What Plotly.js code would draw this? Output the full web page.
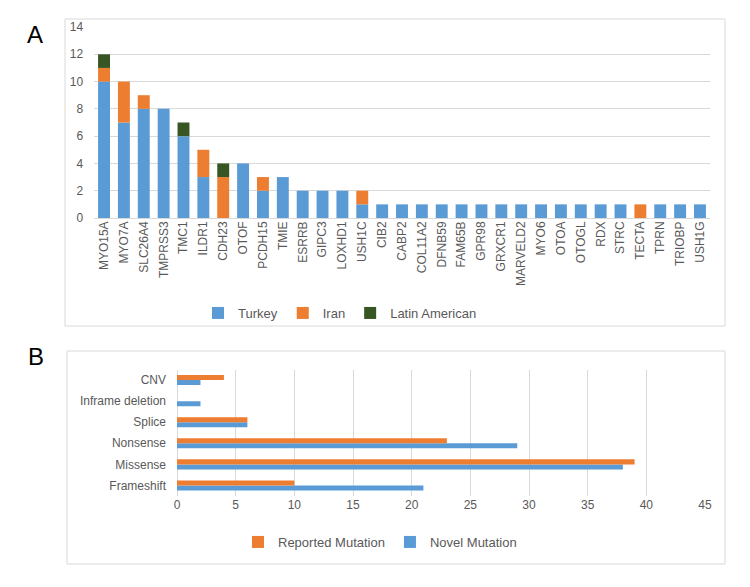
<!DOCTYPE html>
<html>
<head>
<meta charset="utf-8">
<script src="https://cdn.plot.ly/plotly-3.0.1.min.js"></script>
<style>html,body{margin:0;padding:0;background:#fff;}#chart{width:750px;height:587px;}</style>
</head>
<body>
<div id="chart"></div>
<script>
// Panel A data
const genes = ["MYO15A","MYO7A","SLC26A4","TMPRSS3","TMC1","ILDR1","CDH23","OTOF","PCDH15","TMIE","ESRRB","GIPC3","LOXHD1","USH1C","CIB2","CABP2","COL11A2","DFNB59","FAM65B","GPR98","GRXCR1","MARVELD2","MYO6","OTOA","OTOGL","RDX","STRC","TECTA","TPRN","TRIOBP","USH1G"];
const turkey = [10,7,8,8,6,3,0,4,2,3,2,2,2,1,1,1,1,1,1,1,1,1,1,1,1,1,1,0,1,1,1];
const iran   = [1,3,1,0,0,2,3,0,1,0,0,0,0,1,0,0,0,0,0,0,0,0,0,0,0,0,0,1,0,0,0];
const latin  = [1,0,0,0,1,0,1,0,0,0,0,0,0,0,0,0,0,0,0,0,0,0,0,0,0,0,0,0,0,0,0];

// Panel B data
const mutTypes = ["Frameshift","Missense","Nonsense","Splice","Inframe deletion","CNV"];
const reported = [10,39,23,6,0,4];
const novel    = [21,38,29,6,2,2];

const BLUE = "#5B9BD5", ORANGE = "#ED7D31", GREEN = "#375623";
const FONT = "Liberation Sans, Arial, sans-serif";
const TXT = "#595959";

const traces = [
  {type:"bar", x:genes, y:turkey, name:"Turkey", marker:{color:BLUE}, xaxis:"x", yaxis:"y", legend:"legend"},
  {type:"bar", x:genes, y:iran, name:"Iran", marker:{color:ORANGE}, xaxis:"x", yaxis:"y", legend:"legend"},
  {type:"bar", x:genes, y:latin, name:"Latin American", marker:{color:GREEN}, xaxis:"x", yaxis:"y", legend:"legend"},
  {type:"bar", orientation:"h", y:mutTypes, x:novel, name:"Novel Mutation", marker:{color:BLUE}, xaxis:"x2", yaxis:"y2", legend:"legend2",
   width:0.24, offset:-0.24, base:0},
  {type:"bar", orientation:"h", y:mutTypes, x:reported, name:"Reported Mutation", marker:{color:ORANGE}, xaxis:"x2", yaxis:"y2", legend:"legend2",
   width:0.24, offset:0, base:0}
];

const layout = {
  width:750, height:587,
  margin:{l:0,r:0,t:0,b:0},
  paper_bgcolor:"#fff", plot_bgcolor:"#fff",
  font:{family:FONT, color:TXT, size:12},
  barmode:"relative",
  bargap:0.4,
  showlegend:true,
  xaxis:{domain:[94.1/750, 709.9/750], anchor:"y", type:"category", tickangle:-90,
         showgrid:false, showline:false, ticks:"", tickfont:{size:12,color:TXT}, fixedrange:true},
  yaxis:{domain:[1-218/587, 1-27/587], anchor:"x", range:[0,14], dtick:2,
         showgrid:true, gridcolor:"#d9d9d9", gridwidth:1, zeroline:true, zerolinecolor:"#d9d9d9",
         showline:false, ticks:"", tickfont:{size:12,color:TXT}, ticklabelstandoff:10},
  xaxis2:{domain:[177/750, 705/750], anchor:"y2", range:[0,45], dtick:5,
          showgrid:true, gridcolor:"#d9d9d9", zeroline:true, zerolinecolor:"#d9d9d9",
          showline:false, ticks:"", tickfont:{size:12,color:TXT}},
  yaxis2:{domain:[1-496/587, 1-369.5/587], anchor:"x2", type:"category",
          showgrid:false, showline:false, ticks:"", tickfont:{size:12,color:TXT}, ticklabelstandoff:10},
  legend:{orientation:"h", x:340/750, xanchor:"center", y:1-313/587, yanchor:"middle",
          font:{size:13,color:TXT}, traceorder:"normal", itemwidth:30, bgcolor:"rgba(0,0,0,0)"},
  legend2:{orientation:"h", x:380/750, xanchor:"center", y:1-542/587, yanchor:"middle",
           font:{size:13,color:TXT}, traceorder:"reversed", itemwidth:30, bgcolor:"rgba(0,0,0,0)"},
  shapes:[
    {type:"rect", xref:"paper", yref:"paper", x0:65/750, x1:725/750, y0:1-326/587, y1:1-19/587,
     line:{color:"#d9d9d9", width:1}, fillcolor:"rgba(0,0,0,0)", layer:"below"},
    {type:"rect", xref:"paper", yref:"paper", x0:67/750, x1:725/750, y0:1-564/587, y1:1-351/587,
     line:{color:"#d9d9d9", width:1}, fillcolor:"rgba(0,0,0,0)", layer:"below"}
  ],
  annotations:[
    {text:"A", xref:"paper", yref:"paper", x:35/750, y:1-34/587, xanchor:"center", yanchor:"middle",
     showarrow:false, font:{size:24, color:"#000", family:FONT}},
    {text:"B", xref:"paper", yref:"paper", x:36/750, y:1-356/587, xanchor:"center", yanchor:"middle",
     showarrow:false, font:{size:24, color:"#000", family:FONT}}
  ]
};

Plotly.newPlot("chart", traces, layout, {displayModeBar:false, staticPlot:true});
</script>
</body>
</html>
